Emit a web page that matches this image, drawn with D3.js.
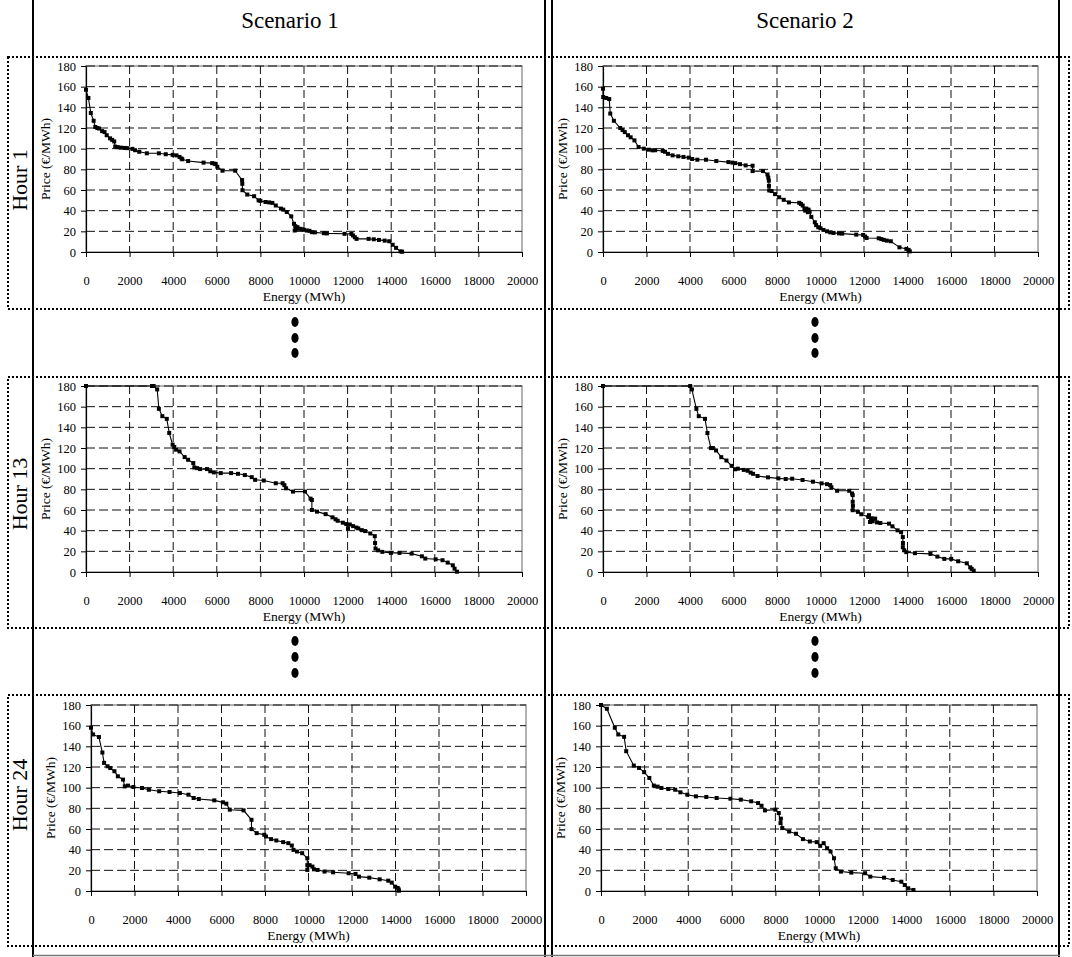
<!DOCTYPE html>
<html>
<head>
<meta charset="utf-8">
<script src="https://cdn.jsdelivr.net/npm/d3@7"></script>
<style>
  html, body { margin: 0; padding: 0; background: #fff; }
  svg { display: block; }
  svg text { font-family: "Liberation Serif", "Tinos", "Times New Roman", Times, "DejaVu Serif", "Noto Serif", "FreeSerif", serif; fill: #000; }
</style>
</head>
<body>
<svg id="fig" width="1072" height="957"></svg>
<script>
// Supply curves: [energy (MWh), price (€/MWh)] for each hour and scenario
const hour1Scenario1 = [[0,157],[110,149],[221,134.5],[350,127],[426,121],[520,120],[600,119.5],[741,117],[850,116],[950,113],[1104,110],[1200,108.5],[1293,107],[1340,102],[1450,101.5],[1600,101],[1766,100.7],[1900,100.5],[2129,99.8],[2250,98.5],[2444,97],[2791,95.5],[3343,95.5],[3659,94.6],[3974,94],[4150,93.5],[4290,92],[4380,90.5],[4416,89.7],[4684,88],[5393,86.5],[5787,86],[5900,85.5],[5945,85],[6024,82.5],[6260,78.7],[6844,78.7],[7160,69.6],[7170,66],[7176,59.8],[7397,55.6],[7712,54],[7917,50],[8000,49.5],[8232,48.4],[8400,48],[8547,47.5],[8705,45],[8941,42],[9050,41],[9210,38.7],[9415,34.5],[9541,27.3],[9573,20.8],[9600,25],[9650,22],[9700,24],[9810,22.5],[9900,22],[10000,21.5],[10124,20.8],[10250,20.5],[10361,19.2],[10500,19],[10913,18.2],[11050,18],[11859,17.6],[12175,17.5],[12250,16],[12332,14.3],[12411,12.7],[12963,12.7],[13200,12.3],[13436,11.7],[13700,11],[13909,10.4],[14067,7],[14224,4],[14430,0.6],[14500,0.3]];

const hour1Scenario2 = [[0,158],[10,150],[150,149],[286,148],[334,134],[500,127],[794,120],[900,118],[1001,116],[1150,113],[1271,111],[1446,108],[1636,101.6],[1875,100],[2100,99],[2272,98.4],[2400,98.5],[2748,97.8],[2850,97],[2986,95],[3200,93.5],[3463,92.6],[3700,92],[3940,91.3],[4100,90],[4337,89.3],[4734,89.3],[5210,88],[5766,87],[5950,86.5],[6084,86],[6300,85],[6560,83.8],[6878,83.5],[6878,78.3],[7355,78.3],[7562,75],[7600,72],[7625,69],[7630,64],[7641,59.6],[7750,59],[7911,56],[8100,53],[8308,50.5],[8546,48],[9023,47.6],[9100,46.5],[9182,45],[9261,41.8],[9300,40],[9350,42],[9420,38.5],[9450,41],[9500,39],[9579,34],[9738,28.8],[9800,26],[9897,24],[10000,23],[10135,21.4],[10300,20],[10453,19],[10600,18.5],[10850,18],[11000,17.8],[11644,16.8],[11962,16.5],[12050,15],[12120,13.6],[12677,13.3],[12800,12.5],[12915,11.7],[13050,11],[13233,10.4],[13630,4.5],[13948,3],[14050,2],[14106,0.6]];

const hour13Scenario1 = [[0,180],[3028,180],[3100,180],[3265,176.7],[3343,157.9],[3501,150.8],[3706,148.2],[3817,134.6],[3974,123.2],[4050,121],[4132,118.4],[4290,116.7],[4526,111.2],[4684,108.6],[4921,105.4],[4968,101.2],[5100,100.5],[5235,99.6],[5551,99.6],[5700,97.5],[5866,96.4],[6182,95.7],[6655,95.7],[6971,95],[7286,93.8],[7601,91.8],[7759,89.2],[8153,88.5],[8705,85.9],[9021,85.9],[9100,84],[9178,81],[9494,77.8],[10046,77.8],[10300,71],[10361,69.7],[10361,60],[10597,58.4],[10992,56],[11307,52.9],[11450,51],[11544,49.6],[11780,47.7],[11938,46.4],[12017,42.2],[12100,46],[12254,44.4],[12400,43],[12490,42.2],[12650,40.5],[12805,39.6],[13042,37.3],[13247,34.7],[13260,28],[13279,22.7],[13400,21],[13594,19.5],[13988,18.5],[14382,18.5],[14934,17.8],[15407,15.2],[15565,13],[16038,12.3],[16354,11.4],[16591,9.1],[16827,6.5],[16906,3.2],[17017,0.3]];

const hour13Scenario2 = [[0,180],[4007,180],[4086,176.7],[4293,157.9],[4404,150.8],[4690,148.2],[4801,134.5],[4961,119.9],[5050,120],[5199,117.6],[5438,111.1],[5676,107.9],[5915,102.7],[6074,99.4],[6200,100],[6471,98.8],[6650,98],[6789,96.2],[6900,95],[7107,92.9],[7584,91.6],[8061,90.6],[8400,90],[8697,90.3],[9174,89],[9651,87.4],[10049,85.8],[10300,85],[10446,84.1],[10500,82],[10764,78.6],[11321,78.6],[11450,76],[11480,74.4],[11480,68],[11490,64],[11480,59.8],[11718,58.2],[11877,55.9],[12195,53.3],[12230,55],[12275,48.4],[12350,52],[12400,49],[12513,51.7],[12600,48],[12752,47.4],[13149,46.8],[13308,44.2],[13546,40.3],[13705,38.6],[13785,33.8],[13790,28],[13785,24],[13850,21],[13944,19.2],[14341,18.2],[15056,17.5],[15374,14.9],[15692,12.7],[16010,12.7],[16328,10.4],[16726,8.4],[16885,4.5],[16950,3],[17044,1.3]];

const hour24Scenario1 = [[0,158],[95,151.5],[364,149],[523,134],[602,124],[760,120.7],[887,119],[1077,115.9],[1235,111],[1473,107.8],[1553,101.3],[1700,102],[1948,100.7],[2344,99.7],[2661,98],[3136,96.5],[3611,95.8],[4086,94.8],[4481,93.2],[4719,90],[4956,89],[5669,87.7],[6065,85.8],[6223,84.5],[6381,78.7],[7015,78],[7379,68.9],[7379,59.9],[7617,56],[7965,54.4],[8045,52.8],[8282,50.2],[8520,48.9],[8837,47.3],[9074,46.3],[9232,44],[9312,39.8],[9470,38.2],[9708,36.6],[9945,31.7],[9945,25],[9945,20.4],[10050,25],[10182,23.6],[10250,21],[10420,20.4],[10737,18.8],[11133,18.1],[11846,17.2],[12162,16.5],[12321,13.9],[12796,12.9],[13271,11.3],[13667,10],[13826,8.1],[13984,4.2],[14100,3],[14142,1.6],[14158,0.3]];

const hour24Scenario2 = [[0,180],[269,176.4],[633,158],[792,151.5],[1061,149.2],[1156,135.3],[1504,121.4],[1742,119.1],[1979,115],[2217,109.4],[2423,102],[2600,101],[2771,99.7],[3088,98.7],[3405,98],[3642,95.5],[3959,93.2],[4355,91.6],[4830,91],[5305,90],[5938,89.3],[6413,88.4],[6888,86.8],[7205,85.1],[7363,82.5],[7521,78],[8000,78.7],[8155,75.4],[8234,65.7],[8250,70],[8313,60.9],[8630,57.6],[8947,55.4],[9263,50.2],[9580,47.9],[9896,47.3],[10055,43.7],[10213,46.3],[10372,41.4],[10530,38.2],[10689,31.7],[10768,22],[11006,18.8],[11481,17.8],[12114,17.2],[12352,13.9],[12985,12.9],[13381,10.7],[13777,9],[13935,5.8],[14093,2.6],[14331,1]];

const energyTicks = [0,2000,4000,6000,8000,10000,12000,14000,16000,18000,20000];
const priceTicks = [0,20,40,60,80,100,120,140,160,180];
const scenarioLabels = ["Scenario 1", "Scenario 2"];
const hourLabels = ["Hour 1", "Hour 13", "Hour 24"];

const SERIF = '"Liberation Serif", "Tinos", "Times New Roman", Times, "DejaVu Serif", "Noto Serif", serif';

// Page layout
const svg = d3.select("#fig");
const rowBands = [[57, 309], [377, 628], [695, 946]];
const hourLabelY = [180, 494, 795];
const titleX = [290, 805];
const ellipsisX = [295, 815];
const ellipsisY = [322, 338, 353, 641, 657, 673];

const panels = [
  {row: 0, col: 0, x0: 86,  x1: 522,  y0: 66,  y1: 252, data: hour1Scenario1},
  {row: 0, col: 1, x0: 603, x1: 1038, y0: 66,  y1: 252, data: hour1Scenario2},
  {row: 1, col: 0, x0: 86,  x1: 522,  y0: 386, y1: 572, data: hour13Scenario1},
  {row: 1, col: 1, x0: 603, x1: 1038, y0: 386, y1: 572, data: hour13Scenario2},
  {row: 2, col: 0, x0: 91,  x1: 526,  y0: 705, y1: 891, data: hour24Scenario1},
  {row: 2, col: 1, x0: 601, x1: 1037, y0: 705, y1: 891, data: hour24Scenario2}
];

// Table frame: column rules and bottom rule
[33, 545, 552, 1059].forEach(x => {
  svg.append("line").attr("x1", x).attr("x2", x).attr("y1", 0).attr("y2", 957)
    .attr("stroke", "#000").attr("stroke-width", 2);
});
svg.append("line").attr("x1", 33).attr("x2", 1060).attr("y1", 955.5).attr("y2", 955.5)
  .attr("stroke", "#777").attr("stroke-width", 1.5);

// Dotted boxes around each hour row
rowBands.forEach(([t, b]) => {
  svg.append("rect").attr("x", 8).attr("y", t).attr("width", 1061).attr("height", b - t)
    .attr("fill", "none").attr("stroke", "#000").attr("stroke-width", 2)
    .attr("stroke-dasharray", "2,2");
});

// Column titles
scenarioLabels.forEach((s, i) => {
  svg.append("text").attr("x", titleX[i]).attr("y", 28).attr("text-anchor", "middle")
    .style("font-family", SERIF).attr("font-size", 23).text(s);
});

// Row labels
hourLabels.forEach((h, i) => {
  svg.append("text").attr("transform", `translate(27,${hourLabelY[i]}) rotate(-90)`)
    .attr("text-anchor", "middle").style("font-family", SERIF).attr("font-size", 22).text(h);
});

// Vertical ellipses between rows
ellipsisX.forEach(x => ellipsisY.forEach(y => {
  svg.append("ellipse").attr("cx", x).attr("cy", y).attr("rx", 3.6).attr("ry", 5).attr("fill", "#000");
}));

// Charts
panels.forEach(p => {
  const x = d3.scaleLinear().domain([0, 20000]).range([p.x0, p.x1]);
  const y = d3.scaleLinear().domain([0, 180]).range([p.y1, p.y0]);
  const g = svg.append("g");

  // plot-area border
  g.append("rect").attr("x", p.x0).attr("y", p.y0).attr("width", p.x1 - p.x0).attr("height", p.y1 - p.y0)
    .attr("fill", "none").attr("stroke", "#999").attr("stroke-width", 1.5);

  // dashed gridlines
  g.selectAll(".hg").data(priceTicks.filter(v => v > 0)).join("line")
    .attr("x1", p.x0).attr("x2", p.x1).attr("y1", d => y(d)).attr("y2", d => y(d))
    .attr("stroke", "#111").attr("stroke-width", 1).attr("stroke-dasharray", "9,4");
  g.selectAll(".vg").data(energyTicks.filter(v => v > 0 && v < 20000)).join("line")
    .attr("x1", d => x(d)).attr("x2", d => x(d)).attr("y1", p.y0).attr("y2", p.y1)
    .attr("stroke", "#111").attr("stroke-width", 1).attr("stroke-dasharray", "8,4");

  // axes
  const ya = g.append("g").attr("transform", `translate(${p.x0},0)`)
    .call(d3.axisLeft(y).tickValues(priceTicks).tickSize(5).tickSizeOuter(0).tickPadding(5));
  const xa = g.append("g").attr("transform", `translate(0,${p.y1})`)
    .call(d3.axisBottom(x).tickValues(energyTicks).tickSize(5).tickSizeOuter(0).tickPadding(19).tickFormat(d3.format("d")));
  [ya, xa].forEach(a => {
    a.attr("font-family", null);
    a.selectAll("text").attr("font-size", 12.5).style("font-family", SERIF).attr("fill", "#000");
    a.selectAll("line").attr("stroke", "#000");
    a.select(".domain").attr("stroke", "#000").attr("stroke-width", 1.2);
  });

  // axis titles
  g.append("text").attr("x", (p.x0 + p.x1) / 2).attr("y", p.y1 + 49).attr("text-anchor", "middle")
    .style("font-family", SERIF).attr("font-size", 13.5).text("Energy (MWh)");
  g.append("text").attr("transform", `translate(${p.x0 - 36},${(p.y0 + p.y1) / 2}) rotate(-90)`)
    .attr("text-anchor", "middle").style("font-family", SERIF).attr("font-size", 13.5).text("Price (€/MWh)");

  // curve and markers
  const line = d3.line().x(d => x(d[0])).y(d => y(d[1]));
  g.append("path").datum(p.data).attr("d", line).attr("fill", "none")
    .attr("stroke", "#000").attr("stroke-width", 1.1);
  g.selectAll(".m").data(p.data).join("rect")
    .attr("x", d => x(d[0]) - 2).attr("y", d => y(d[1]) - 2)
    .attr("width", 4).attr("height", 4).attr("fill", "#000");
});
</script>
</body>
</html>
